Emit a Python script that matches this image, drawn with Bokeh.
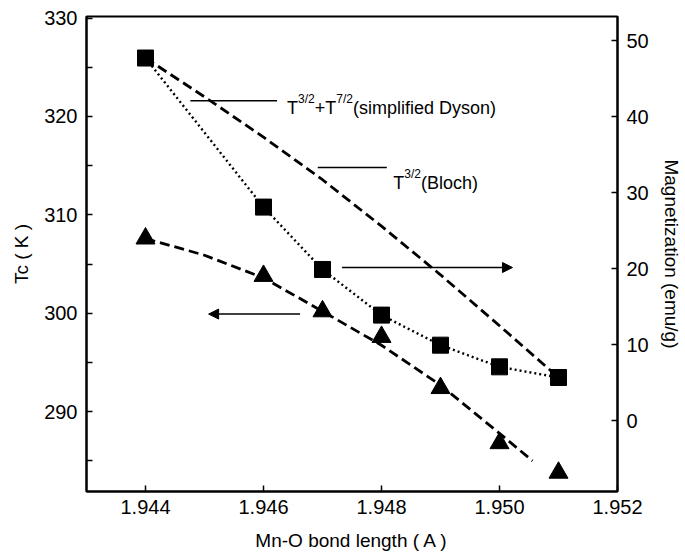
from bokeh.plotting import figure
from bokeh.models import Range1d, LinearAxis, FixedTicker, Label, Arrow, NormalHead, PrintfTickFormatter
from bokeh.embed import file_html
from bokeh.resources import INLINE

# ---- data ----
bond_length = [1.944, 1.946, 1.947, 1.948, 1.949, 1.950, 1.951]
tc_values = [307.6, 303.8, 300.2, 297.6, 292.4, 286.8, 283.8]
magnetization = [47.7, 28.1, 19.9, 13.9, 9.95, 7.1, 5.7]

# T^3/2 (Bloch) fit of magnetization (right axis)
bloch_x = [1.944, 1.945, 1.946, 1.947, 1.948, 1.949, 1.950, 1.951]
bloch_y = [47.7, 42.6, 37.3, 31.7, 25.6, 19.2, 12.5, 5.7]

# Tc fit (left axis)
tcfit_x = [1.944, 1.945, 1.946, 1.947, 1.948, 1.949, 1.950, 1.95056]
tcfit_y = [307.6, 305.9, 303.6, 300.2, 296.75, 292.7, 287.8, 285.0]

x_ticks = [1.944, 1.946, 1.948, 1.950, 1.952]
left_ticks = [290, 300, 310, 320, 330]
left_minor = [285, 295, 305, 315, 325]
right_ticks = [0, 10, 20, 30, 40, 50]

FONT = "Liberation Sans"

p = figure(frame_width=531, frame_height=475, output_backend="svg", toolbar_location=None,
           x_range=Range1d(1.943, 1.952), y_range=Range1d(281.89, 330.16),
           min_border_left=86, min_border_top=16, min_border_right=5, min_border_bottom=5)
p.extra_y_ranges = {"right": Range1d(-9.29, 53.16)}
p.grid.visible = False
p.outline_line_color = "black"
p.outline_line_width = 2
p.background_fill_color = "white"
p.border_fill_color = "white"

right_axis = LinearAxis(y_range_name="right")
p.add_layout(right_axis, "right")

p.xaxis.ticker = FixedTicker(ticks=x_ticks, minor_ticks=[])
p.xaxis.formatter = PrintfTickFormatter(format="%.3f")
p.yaxis[0].ticker = FixedTicker(ticks=left_ticks, minor_ticks=left_minor)
right_axis.ticker = FixedTicker(ticks=right_ticks, minor_ticks=[])

p.xaxis.axis_label = "Mn-O bond length ( A )"
p.yaxis[0].axis_label = "Tc ( K )"
right_axis.axis_label = "Magnetization (emu/g)"

for ax in [p.xaxis[0], p.yaxis[0], right_axis]:
    ax.axis_line_width = 2
    ax.axis_line_color = "black"
    ax.major_tick_in = 6
    ax.major_tick_out = 0
    ax.minor_tick_in = 6
    ax.minor_tick_out = 0
    ax.major_tick_line_width = 1.5
    ax.minor_tick_line_width = 1.5
    ax.major_label_text_font = FONT
    ax.major_label_text_font_size = "20px"
    ax.major_label_text_color = "black"
    ax.major_label_standoff = 9
    ax.axis_label_text_font = FONT
    ax.axis_label_text_font_size = "19px"
    ax.axis_label_text_font_style = "normal"
    ax.axis_label_text_color = "black"
    ax.axis_label_standoff = 9
p.xaxis[0].major_label_standoff = 8
p.xaxis[0].axis_label_standoff = 13

# ---- lines ----
p.line(bloch_x, bloch_y, y_range_name="right", line_color="black", line_width=2.8, line_dash="10 5")
p.line(bond_length, magnetization, y_range_name="right", line_color="black", line_width=2.4, line_dash="2 3")
p.line(tcfit_x, tcfit_y, line_color="black", line_width=2.8, line_dash="10 5")

# ---- markers ----
p.scatter(bond_length, magnetization, y_range_name="right", marker="square", size=16,
          fill_color="black", line_color="black")
p.scatter(bond_length, tc_values, marker="triangle", size=19,
          fill_color="black", line_color="black")

# ---- leader lines ----
p.segment(x0=[1.94476, 1.94692], y0=[321.6, 314.82], x1=[1.94623, 1.94809], y1=[321.6, 314.82],
          line_color="black", line_width=1.5)

def add_text(x, y, pieces):
    for txt, size, dx, dy in pieces:
        p.add_layout(Label(x=x, y=y, x_offset=dx, y_offset=dy, text=txt, text_font=FONT,
                           text_font_size=size, text_color="black", text_baseline="alphabetic",
                           text_align="left"))

add_text(1.94640, 320.85, [("T", "18px", 0, 0), ("3/2", "12px", 11, 9), ("+T", "18px", 27.7, 0),
                            ("7/2", "12px", 49.2, 9), ("(simplified Dyson)", "18px", 65.9, 0)])
add_text(1.94820, 313.29, [("T", "18px", 0, 0), ("3/2", "12px", 11, 9), ("(Bloch)", "18px", 27.7, 0)])

# ---- arrows ----
p.add_layout(Arrow(end=NormalHead(size=10, fill_color="black", line_color="black"),
                   x_start=1.94733, y_start=304.65, x_end=1.95022, y_end=304.65,
                   line_color="black", line_width=1.5))
p.add_layout(Arrow(end=NormalHead(size=10, fill_color="black", line_color="black"),
                   x_start=1.94662, y_start=299.92, x_end=1.94507, y_end=299.92,
                   line_color="black", line_width=1.5))

open("out.html", "w").write(file_html(p, INLINE))
